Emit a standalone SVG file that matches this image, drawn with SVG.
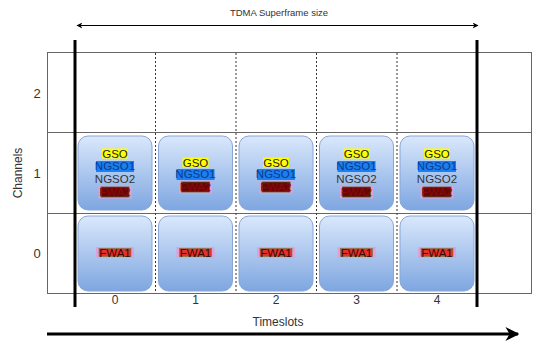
<svg xmlns="http://www.w3.org/2000/svg" width="550" height="346" viewBox="0 0 550 346">
<defs>
<linearGradient id="bg" x1="0" y1="0" x2="0" y2="1">
<stop offset="0" stop-color="#dae8fc"/>
<stop offset="1" stop-color="#7ea6e0"/>
</linearGradient>
<marker id="sa" viewBox="0 0 10 10" refX="9" refY="5" markerWidth="6" markerHeight="6" orient="auto-start-reverse" markerUnits="userSpaceOnUse">
<path d="M0,0 L10,5 L0,10 L3,5 z" fill="#000"/>
</marker>
<marker id="ba" viewBox="0 0 10 10" refX="9" refY="5" markerWidth="14" markerHeight="14" orient="auto" markerUnits="userSpaceOnUse">
<path d="M0,0 L10,5 L0,10 L3,5 z" fill="#000"/>
</marker>
</defs>
<style>
.grid{fill:none;stroke:#666;stroke-width:1}
.dash{stroke:#333;stroke-width:1;stroke-dasharray:2 2}
.thick{stroke:#000;stroke-width:3}
.box{fill:url(#bg);stroke:#8aa6d6;stroke-width:1}
.t{font-family:"Liberation Sans",Arial,sans-serif;text-anchor:middle}
.ax{font-size:12px;fill:#333}
.lb{font-size:11.5px}
.gso{fill:#ffff00}
.ngso1{fill:#1a7ff0}
.pk{fill:#e0a0dc}
.fwa2{fill:#6a0505;stroke:#3f6a2a;stroke-width:0.8}
.fwa1{fill:#e8302a;stroke:#6a7a3a;stroke-width:0.6}
</style>
<rect width="550" height="346" fill="#fff"/>
<g id="grid">
<rect class="grid" x="47.5" y="52.5" width="484" height="241"/>
<line class="grid" x1="47.5" y1="132.5" x2="531.5" y2="132.5"/>
<line class="grid" x1="47.5" y1="213.5" x2="531.5" y2="213.5"/>
<line class="dash" x1="155.5" y1="53" x2="155.5" y2="293"/>
<line class="dash" x1="236" y1="53" x2="236" y2="293"/>
<line class="dash" x1="316.5" y1="53" x2="316.5" y2="293"/>
<line class="dash" x1="397" y1="53" x2="397" y2="293"/>
</g>
<g id="connectors">
<line class="thick" x1="75" y1="40" x2="75" y2="307"/>
<line class="thick" x1="477" y1="40" x2="477" y2="307"/>
<line x1="77" y1="25.5" x2="478" y2="25.5" stroke="#000" stroke-width="1" marker-start="url(#sa)" marker-end="url(#sa)"/>
<line x1="47" y1="334" x2="518" y2="334" stroke="#000" stroke-width="3" marker-end="url(#ba)"/>
</g>
<g id="labels" class="t">
<text class="ax" x="279" y="16" style="font-size:9.5px">TDMA Superframe size</text>
<text class="ax" x="37" y="98" style="font-size:13px">2</text>
<text class="ax" x="37" y="178" style="font-size:13px">1</text>
<text class="ax" x="37" y="258" style="font-size:13px">0</text>
<text class="ax" transform="translate(22,173) rotate(-90)">Channels</text>
<text class="ax" x="115" y="304">0</text>
<text class="ax" x="195.5" y="304">1</text>
<text class="ax" x="276" y="304">2</text>
<text class="ax" x="356.5" y="304">3</text>
<text class="ax" x="437" y="304">4</text>
<text class="ax" x="278" y="326">Timeslots</text>
</g>
<g id="slot0-ch1">
<rect class="box" x="78" y="136" width="74" height="74" rx="10"/>
<rect class="gso" x="102" y="148.5" width="26" height="10"/>
<text class="t lb" x="115" y="157.5" fill="#222">GSO</text>
<rect class="ngso1" x="96" y="161" width="38" height="11"/>
<text class="t lb" x="115" y="170.2" fill="#0a3a8a">NGSO1</text>
<text class="t lb" x="115" y="183.2" fill="#333">NGSO2</text>
<rect class="pk" x="98.5" y="185.5" width="33" height="13"/>
<rect class="fwa2" x="101" y="187" width="28" height="10"/>
<text class="t lb" x="115" y="195.7" fill="#8a0a0a">FWA2</text>
</g>
<g id="slot1-ch1">
<rect class="box" x="158.5" y="136" width="74" height="74" rx="10"/>
<rect class="gso" x="182.5" y="157.5" width="26" height="10"/>
<text class="t lb" x="195.5" y="166.5" fill="#222">GSO</text>
<rect class="ngso1" x="176.5" y="169" width="38" height="11"/>
<text class="t lb" x="195.5" y="178.2" fill="#0a3a8a">NGSO1</text>
<rect class="pk" x="179" y="180.5" width="33" height="13"/>
<rect class="fwa2" x="181.5" y="182" width="28" height="10"/>
<text class="t lb" x="195.5" y="190.7" fill="#8a0a0a">FWA2</text>
</g>
<g id="slot2-ch1">
<rect class="box" x="239" y="136" width="74" height="74" rx="10"/>
<rect class="gso" x="263" y="157.5" width="26" height="10"/>
<text class="t lb" x="276" y="166.5" fill="#222">GSO</text>
<rect class="ngso1" x="257" y="169" width="38" height="11"/>
<text class="t lb" x="276" y="178.2" fill="#0a3a8a">NGSO1</text>
<rect class="pk" x="259.5" y="180.5" width="33" height="13"/>
<rect class="fwa2" x="262" y="182" width="28" height="10"/>
<text class="t lb" x="276" y="190.7" fill="#8a0a0a">FWA2</text>
</g>
<g id="slot3-ch1">
<rect class="box" x="319.5" y="136" width="74" height="74" rx="10"/>
<rect class="gso" x="343.5" y="148.5" width="26" height="10"/>
<text class="t lb" x="356.5" y="157.5" fill="#222">GSO</text>
<rect class="ngso1" x="337.5" y="161" width="38" height="11"/>
<text class="t lb" x="356.5" y="170.2" fill="#0a3a8a">NGSO1</text>
<text class="t lb" x="356.5" y="183.2" fill="#333">NGSO2</text>
<rect class="pk" x="340" y="185.5" width="33" height="13"/>
<rect class="fwa2" x="342.5" y="187" width="28" height="10"/>
<text class="t lb" x="356.5" y="195.7" fill="#8a0a0a">FWA2</text>
</g>
<g id="slot4-ch1">
<rect class="box" x="400" y="136" width="74" height="74" rx="10"/>
<rect class="gso" x="424" y="148.5" width="26" height="10"/>
<text class="t lb" x="437" y="157.5" fill="#222">GSO</text>
<rect class="ngso1" x="418" y="161" width="38" height="11"/>
<text class="t lb" x="437" y="170.2" fill="#0a3a8a">NGSO1</text>
<text class="t lb" x="437" y="183.2" fill="#333">NGSO2</text>
<rect class="pk" x="420.5" y="185.5" width="33" height="13"/>
<rect class="fwa2" x="423" y="187" width="28" height="10"/>
<text class="t lb" x="437" y="195.7" fill="#8a0a0a">FWA2</text>
</g>
<g id="slot0-ch0">
<rect class="box" x="78" y="216" width="74" height="75" rx="10"/>
<rect class="pk" x="96" y="247" width="38" height="11"/>
<rect class="fwa1" x="99" y="248.5" width="32" height="8"/>
<text class="t lb" x="115" y="257.2" fill="#3a0a05">FWA1</text>
</g>
<g id="slot1-ch0">
<rect class="box" x="158.5" y="216" width="74" height="75" rx="10"/>
<rect class="pk" x="176.5" y="247" width="38" height="11"/>
<rect class="fwa1" x="179.5" y="248.5" width="32" height="8"/>
<text class="t lb" x="195.5" y="257.2" fill="#3a0a05">FWA1</text>
</g>
<g id="slot2-ch0">
<rect class="box" x="239" y="216" width="74" height="75" rx="10"/>
<rect class="pk" x="257" y="247" width="38" height="11"/>
<rect class="fwa1" x="260" y="248.5" width="32" height="8"/>
<text class="t lb" x="276" y="257.2" fill="#3a0a05">FWA1</text>
</g>
<g id="slot3-ch0">
<rect class="box" x="319.5" y="216" width="74" height="75" rx="10"/>
<rect class="pk" x="337.5" y="247" width="38" height="11"/>
<rect class="fwa1" x="340.5" y="248.5" width="32" height="8"/>
<text class="t lb" x="356.5" y="257.2" fill="#3a0a05">FWA1</text>
</g>
<g id="slot4-ch0">
<rect class="box" x="400" y="216" width="74" height="75" rx="10"/>
<rect class="pk" x="418" y="247" width="38" height="11"/>
<rect class="fwa1" x="421" y="248.5" width="32" height="8"/>
<text class="t lb" x="437" y="257.2" fill="#3a0a05">FWA1</text>
</g>
</svg>
